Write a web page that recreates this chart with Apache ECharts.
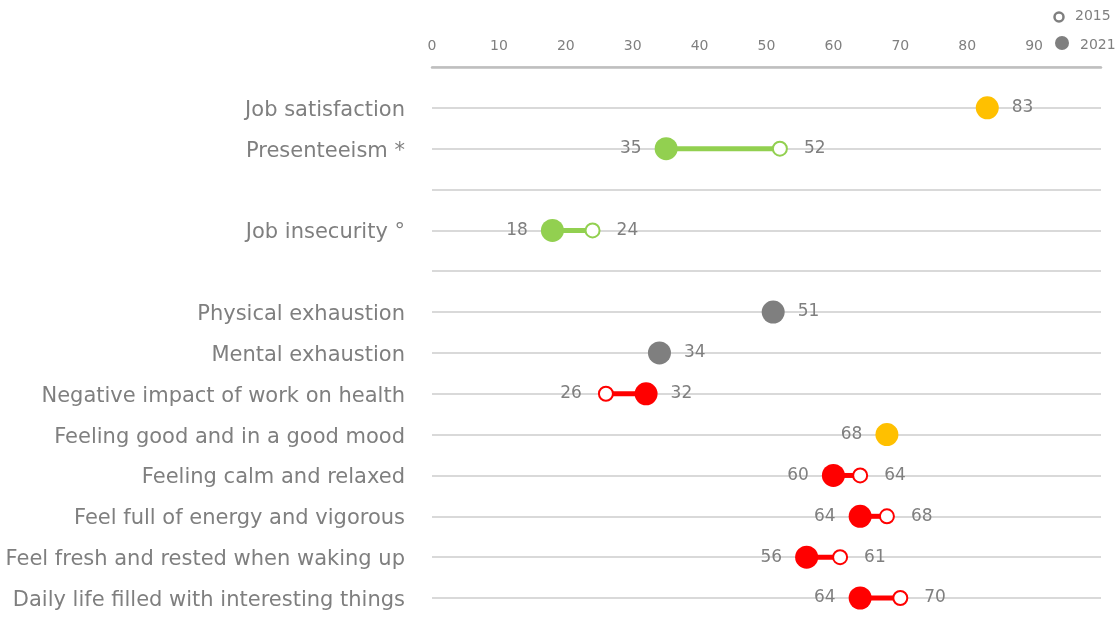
<!DOCTYPE html>
<html>
<head>
<meta charset="utf-8">
<script src="https://cdn.jsdelivr.net/npm/echarts@6/dist/echarts.min.js"></script>
<style>
html,body{margin:0;padding:0;background:#fff;}
#main{width:1115px;height:634px;}
</style>
</head>
<body>
<div id="main"></div>
<script>
const rowNames = ['Job satisfaction','Presenteeism *','','Job insecurity °','','Physical exhaustion','Mental exhaustion','Negative impact of work on health','Feeling good and in a good mood','Feeling calm and relaxed','Feel full of energy and vigorous','Feel fresh and rested when waking up','Daily life filled with interesting things'];
const values2021 = [83,35,null,18,null,51,34,32,68,60,64,56,64];
const values2015 = [null,52,null,24,null,null,null,26,null,64,68,61,70];
const rowColors = ['#ffc000','#92d050',null,'#92d050',null,'#7f7f7f','#7f7f7f','#ff0000','#ffc000','#ff0000','#ff0000','#ff0000','#ff0000'];
const labelSide2021 = ['right','left',null,'left',null,'right','right','right','left','left','left','left','left'];
const labelSide2015 = [null,'right',null,'right',null,null,null,'left',null,'right','right','right','right'];
const xTicks = [0,10,20,30,40,50,60,70,80,90];

const FONT = 'DejaVu Sans';
const TXT = '#7f7f7f';

const connectData = [], d2021 = [], d2015 = [];
rowNames.forEach((n,i)=>{
  const y = i+1;
  if (values2021[i]!=null && values2015[i]!=null) connectData.push({value:[values2021[i], values2015[i], y], itemStyle:{color:rowColors[i]}});
  if (values2021[i]!=null) d2021.push({value:[values2021[i], y], itemStyle:{color:rowColors[i], opacity:1},
    label:{position:labelSide2021[i], distance:13}});
  if (values2015[i]!=null) d2015.push({value:[values2015[i], y], itemStyle:{color:'#fff', borderColor:rowColors[i], borderWidth:2, opacity:1},
    label:{position:labelSide2015[i], distance:16}});
});

const chart = echarts.init(document.getElementById('main'));
chart.setOption({
  animation:false,
  grid:{left:432, right:14, top:67, bottom:36},
  xAxis:{type:'value', position:'top', min:0, max:100, interval:10,
    axisLine:{show:true, lineStyle:{color:'#bfbfbf', width:2.5}},
    axisTick:{show:false}, splitLine:{show:false},
    axisLabel:{color:TXT, fontFamily:FONT, fontSize:14, margin:14,
      formatter:v=> xTicks.indexOf(v)>=0 ? String(v) : ''}},
  yAxis:{type:'value', min:0, max:13, interval:1, inverse:true,
    axisLine:{show:false}, axisTick:{show:false},
    splitLine:{show:true, lineStyle:{color:'#d9d9d9', width:2}},
    axisLabel:{color:TXT, fontFamily:FONT, fontSize:21, margin:27,
      formatter:v=> (v>=1 && v<=13 && rowNames[v-1]) ? '{a|' + rowNames[v-1] + '}' : '',
      rich:{a:{color:TXT, fontFamily:FONT, fontSize:21, padding:[5,0,0,0]}}}},
  graphic:[
    {type:'circle', shape:{cx:1059, cy:17, r:4.5}, style:{fill:'#fff', stroke:'#7f7f7f', lineWidth:2.5}},
    {type:'text', left:1075, top:9, style:{text:'2015', fill:TXT, font:'14px "DejaVu Sans"'}},
    {type:'circle', shape:{cx:1062, cy:43, r:7}, style:{fill:'#7f7f7f'}},
    {type:'text', left:1080, top:38, style:{text:'2021', fill:TXT, font:'14px "DejaVu Sans"'}}
  ],
  series:[
    {type:'custom', z:2, data:connectData,
      renderItem:(params, api)=>{
        const p1 = api.coord([api.value(0), api.value(2)]);
        const p2 = api.coord([api.value(1), api.value(2)]);
        return {type:'line', shape:{x1:p1[0], y1:p1[1], x2:p2[0], y2:p2[1]},
          style:{stroke:api.visual('color'), lineWidth:5}};
      }},
    {type:'scatter', name:'2015', z:3, symbolSize:14, data:d2015,
      label:{show:true, formatter:p=>p.value[0], color:TXT, fontFamily:FONT, fontSize:17}},
    {type:'scatter', name:'2021', z:4, symbolSize:23, data:d2021,
      label:{show:true, formatter:p=>p.value[0], color:TXT, fontFamily:FONT, fontSize:17}}
  ]
});
</script>
</body>
</html>
